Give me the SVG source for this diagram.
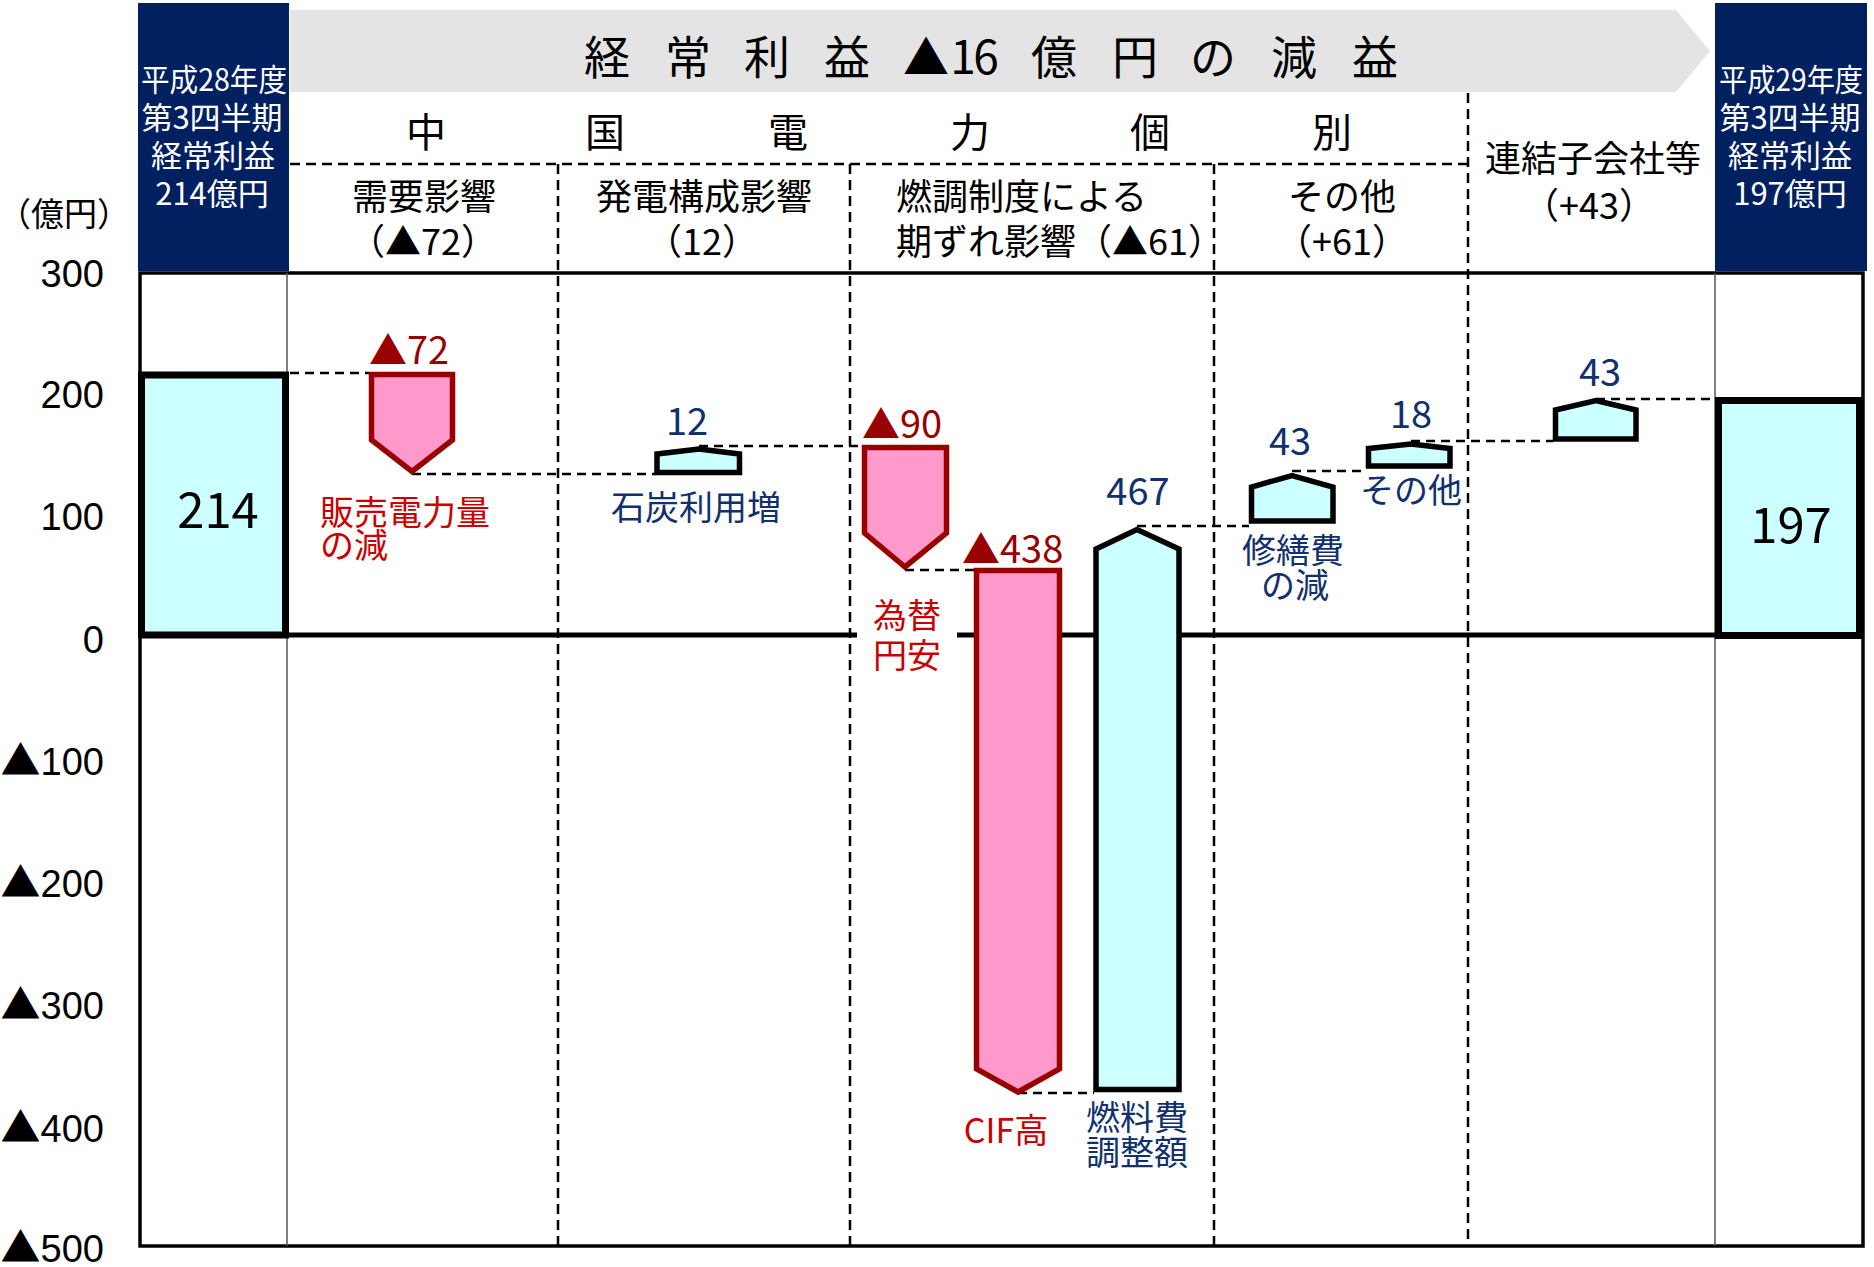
<svg xmlns="http://www.w3.org/2000/svg" width="1874" height="1267" viewBox="0 0 1874 1267">
<style>
text{font-family:"Noto Sans CJK JP","Liberation Sans",sans-serif;}
.ax{font-family:"Liberation Sans","Noto Sans CJK JP",sans-serif;font-size:38px;text-anchor:end;fill:#000}
.tri{font-family:"Noto Sans CJK JP",sans-serif;font-size:40px}
.hd{font-size:36px;fill:#000}
.m{text-anchor:middle}
.box{fill:#002060}
.bt{fill:#fff;font-size:31px;text-anchor:middle}
.neg{fill:#FF99CC;stroke:#990000;stroke-width:5.5}
.pos{fill:#CCFFFF;stroke:#000;stroke-width:5.5}
.tot{fill:#CCFFFF;stroke:#000;stroke-width:7}
.vd{stroke:#000;stroke-width:2.5;stroke-dasharray:10 6;fill:none}
.cn{stroke:#000;stroke-width:2.5;stroke-dasharray:9 6;fill:none}
.nl{fill:#990000;font-size:38px}
.pl{fill:#10306E;font-size:38px;text-anchor:middle}
.rl{fill:#CC0000;font-size:34px}
.bl{fill:#10306E;font-size:34px}
.big{fill:#000;font-size:49px;text-anchor:middle}
</style>
<rect x="0" y="0" width="1874" height="1267" fill="#fff"/>

<!-- header -->
<g id="title-band">
<polygon points="290,10 1676,10 1710,51 1676,92 290,92" fill="#E4E4E4"/>
<text font-size="46" fill="#000" text-anchor="middle" x="607 647 688 728 767 806 847 880 926 963 986 1015 1054 1094 1135 1173 1213 1253 1294 1334 1375" y="74">経 常 利 益 ▲16 億 円 の 減 益</text>
</g>
<g id="prev-box">
<rect class="box" x="138" y="3" width="151" height="268"/>
<text class="bt" x="214" y="91" textLength="146" lengthAdjust="spacingAndGlyphs">平成28年度</text>
<text class="bt" x="212" y="129">第3四半期</text>
<text class="bt" x="213" y="167">経常利益</text>
<text class="bt" x="212" y="205">214億円</text>
</g>
<g id="curr-box">
<rect class="box" x="1715" y="3" width="152" height="268"/>
<text class="bt" x="1791" y="91" textLength="144" lengthAdjust="spacingAndGlyphs">平成29年度</text>
<text class="bt" x="1790" y="129">第3四半期</text>
<text class="bt" x="1790" y="167">経常利益</text>
<text class="bt" x="1790" y="205">197億円</text>
</g>
<g id="header-grid">
<line class="vd" x1="290" y1="164" x2="1468" y2="164"/>
<line class="vd" x1="558" y1="164" x2="558" y2="1246"/>
<line class="vd" x1="850" y1="164" x2="850" y2="1246"/>
<line class="vd" x1="1214" y1="164" x2="1214" y2="1246"/>
<line class="vd" x1="1468" y1="93" x2="1468" y2="1246"/>
</g>
<g id="header-texts">
<text font-size="40" fill="#000" text-anchor="middle" x="426 515 605 696 788 879 970 1060 1150 1241 1332" y="147">中 国 電 力 個 別</text>
<text class="hd m" x="424" y="210">需要影響</text>
<text class="hd m" x="423" y="255">（▲72）</text>
<text class="hd m" x="704" y="210">発電構成影響</text>
<text class="hd m" x="702" y="255">（12）</text>
<text class="hd" x="896" y="210">燃調制度による</text>
<text class="hd" x="896" y="255">期ずれ影響（▲61）</text>
<text class="hd m" x="1342" y="210">その他</text>
<text class="hd m" x="1342" y="255">（+61）</text>
<text class="hd m" x="1593" y="172">連結子会社等</text>
<text class="hd m" x="1589" y="219">（+43）</text>
</g>

<!-- axis -->
<g id="axis">
<text font-size="33" fill="#000" text-anchor="middle" x="64" y="226">（億円）</text>
<text class="ax" x="104" y="287">300</text>
<text class="ax" x="104" y="408">200</text>
<text class="ax" x="104" y="530">100</text>
<text class="ax" x="104" y="653">0</text>
<text class="ax" x="104" y="775"><tspan class="tri">▲</tspan>100</text>
<text class="ax" x="104" y="897"><tspan class="tri">▲</tspan>200</text>
<text class="ax" x="104" y="1019"><tspan class="tri">▲</tspan>300</text>
<text class="ax" x="104" y="1142"><tspan class="tri">▲</tspan>400</text>
<text class="ax" x="104" y="1262"><tspan class="tri">▲</tspan>500</text>
</g>

<!-- chart frame -->
<g id="frame">
<rect x="140" y="273" width="1723" height="973" fill="none" stroke="#000" stroke-width="3.5"/>
<line x1="287" y1="273" x2="287" y2="1246" stroke="#555" stroke-width="1.5"/>
<line x1="1715" y1="273" x2="1715" y2="1246" stroke="#555" stroke-width="1.5"/>
<line x1="140" y1="635" x2="1863" y2="635" stroke="#000" stroke-width="5"/>
</g>

<!-- connectors -->
<g id="connectors">
<line class="cn" x1="290" y1="373" x2="369" y2="373"/>
<line class="cn" x1="412" y1="474" x2="655" y2="474"/>
<line class="cn" x1="699" y1="446" x2="862" y2="446"/>
<line class="cn" x1="905" y1="570" x2="974" y2="570"/>
<line class="cn" x1="1018" y1="1093" x2="1094" y2="1093"/>
<line class="cn" x1="1137" y1="526" x2="1249" y2="526"/>
<line class="cn" x1="1292" y1="471" x2="1366" y2="471"/>
<line class="cn" x1="1411" y1="441" x2="1553" y2="441"/>
<line class="cn" x1="1596" y1="399" x2="1715" y2="399"/>
</g>

<!-- bars -->
<g id="bar-214">
<rect class="tot" x="141.5" y="375" width="144" height="260"/>
<text class="big" x="218" y="528">214</text>
</g>
<g id="bar-demand">
<polygon class="neg" points="371.5,374.5 452.5,374.5 452.5,440 412,471.5 371.5,440"/>
<text class="nl" x="369" y="364">▲72</text>
<text class="rl" x="320" y="525">販売電力量</text>
<text class="rl" x="320" y="558">の減</text>
</g>
<g id="bar-coal">
<polygon class="pos" points="657,472.5 657,454 699,449 739.5,454 739.5,472.5"/>
<text class="pl" x="687" y="435">12</text>
<text class="bl" x="611" y="520">石炭利用増</text>
</g>
<g id="bar-fx">
<polygon class="neg" points="864.5,447.5 946.5,447.5 946.5,533 905,567 864.5,533"/>
<text class="nl" x="862" y="438">▲90</text>
<rect x="857" y="590" width="100" height="90" fill="#fff"/>
<text class="rl m" x="907" y="628" fill="#C00000">為替</text>
<text class="rl m" x="907" y="668" fill="#C00000">円安</text>
</g>
<g id="bar-cif">
<polygon class="neg" points="976.5,570.5 1059.5,570.5 1059.5,1069 1018,1092 976.5,1069"/>
<text class="nl" x="962" y="563">▲438</text>
<text class="rl m" x="1006" y="1143" fill="#C00000">CIF高</text>
</g>
<g id="bar-fuel">
<polygon class="pos" points="1096,1089.5 1096,549 1137,529.5 1179,549 1179,1089.5"/>
<text class="pl" x="1138" y="505">467</text>
<text class="bl m" x="1137" y="1130">燃料費</text>
<text class="bl m" x="1137" y="1165">調整額</text>
</g>
<g id="bar-repair">
<polygon class="pos" points="1251.5,521 1251.5,487 1292,475.5 1333,487 1333,521"/>
<text class="pl" x="1290" y="455">43</text>
<text class="bl m" x="1293" y="563">修繕費</text>
<text class="bl m" x="1295" y="598">の減</text>
</g>
<g id="bar-other">
<polygon class="pos" points="1368.5,466 1368.5,448.5 1411,444 1450,448.5 1450,466"/>
<text class="pl" x="1411" y="428">18</text>
<text class="bl m" x="1411" y="503">その他</text>
</g>
<g id="bar-subs">
<polygon class="pos" points="1555.5,439 1555.5,410 1596,400.5 1636,410 1636,439"/>
<text class="pl" x="1600" y="386">43</text>
</g>
<g id="bar-197">
<rect class="tot" x="1718.5" y="400.5" width="141" height="235"/>
<text class="big" x="1791" y="543">197</text>
</g>
</svg>
